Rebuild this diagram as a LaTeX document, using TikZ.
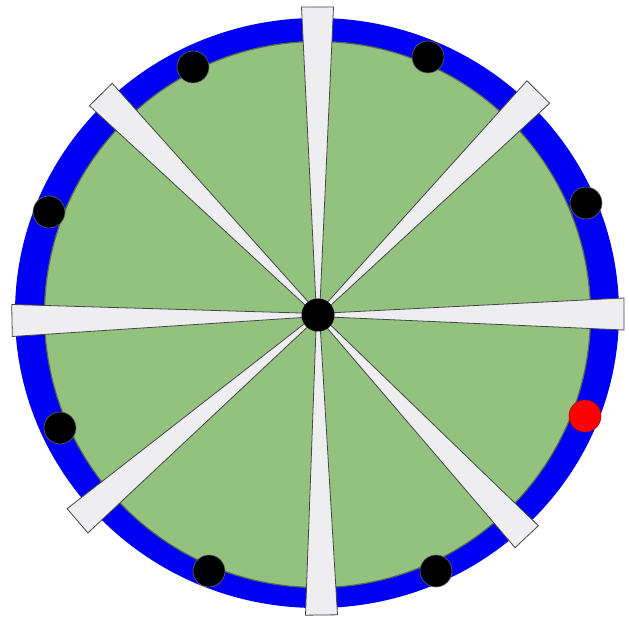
\documentclass[tikz,border=0pt]{standalone}
\usetikzlibrary{calc}
\definecolor{ringblue}{RGB}{0,0,245}
\definecolor{leafgreen}{RGB}{147,194,126}
\definecolor{greenedge}{RGB}{90,105,80}
\definecolor{spokefill}{RGB}{238,238,240}
\definecolor{spokeedge}{RGB}{70,70,70}
\tikzset{
  spokeshape/.style={fill=spokefill,draw=spokeedge,line width=0.8pt,line join=miter},
  rimdot/.style={circle,fill=black,draw=black!60,line width=0.6pt,minimum size=32pt,inner sep=0pt},
  reddot/.style={circle,fill=red,draw=red!70!black,line width=0.6pt,minimum size=32pt,inner sep=0pt},
  hubdot/.style={circle,fill=black,minimum size=33pt,inner sep=0pt}
}
\begin{document}
\begin{tikzpicture}[x=1pt,y=-1pt]
\useasboundingbox (0,0) rectangle (629,617);
% blue rim
\fill[ringblue] (317,313) ellipse [x radius=302, y radius=295];
% green disk
\draw[fill=leafgreen,draw=greenedge,line width=1.2pt] (317.5,314.5) circle [radius=273];
% hub centre
\coordinate (c) at (318,315);
% spoke ends
\coordinate (eT) at (317.5,7);
\coordinate (eUR) at (538.3,92);
\coordinate (eR) at (624,314);
\coordinate (eLR) at (526.7,536.7);
\coordinate (eB) at (321.5,615);
\coordinate (eLL) at (77.5,520.8);
\coordinate (eL) at (12,320.5);
\coordinate (eUL) at (100.8,94.5);
\foreach \e in {eT,eUR,eR,eLR,eB,eLL,eL,eUL}{
  \draw[spokeshape] ($(c)!1.5pt!90:(\e)$) -- ($(\e)!16pt!-90:(c)$) -- ($(\e)!16pt!90:(c)$) -- ($(c)!1.5pt!-90:(\e)$) -- cycle;
}
% rim dots
\node[rimdot] (d1) at (193,67) {};
\node[rimdot] (d2) at (428,57) {};
\node[rimdot] (d3) at (586,203) {};
\node[reddot] (d4) at (585,416) {};
\node[rimdot] (d5) at (436,571) {};
\node[rimdot] (d6) at (209,571) {};
\node[rimdot] (d7) at (60,428) {};
\node[rimdot] (d8) at (49,212) {};
% hub
\node[hubdot] (hub) at (c) {};
\end{tikzpicture}
\end{document}
